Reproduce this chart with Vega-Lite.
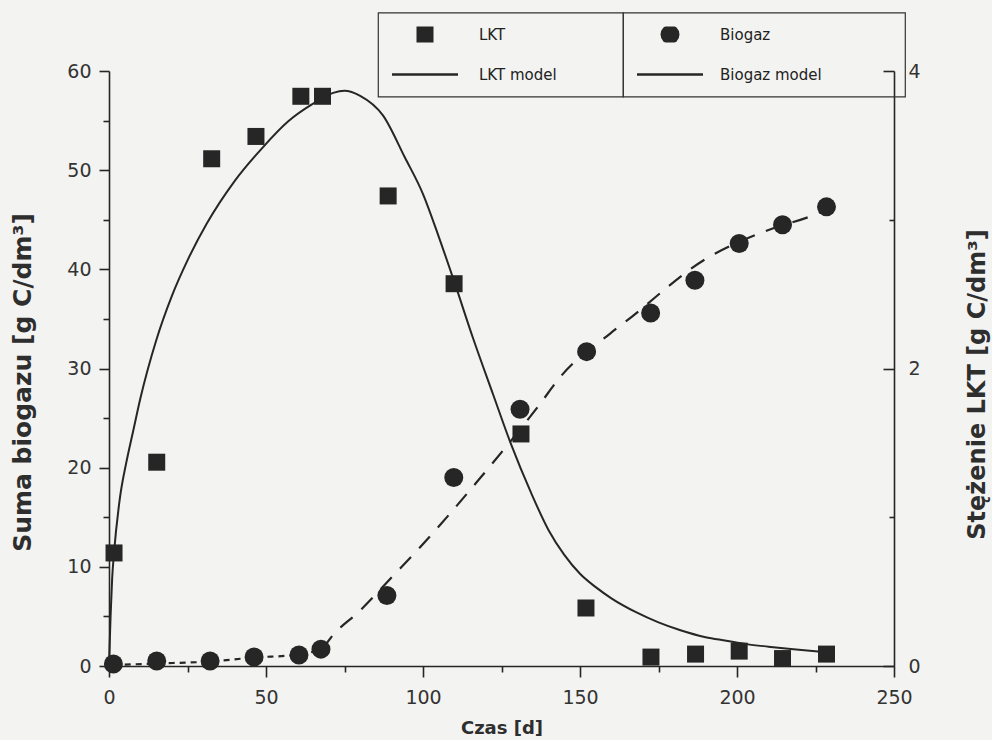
{
  "$schema": "https://vega.github.io/schema/vega-lite/v6.json",
  "width": 785,
  "height": 595,
  "autosize": {"type": "none"},
  "padding": {"left": 109, "top": 71, "right": 98, "bottom": 74},
  "background": "#f3f3f1",
  "config": {
    "view": {"stroke": null},
    "font": "DejaVu Sans",
    "legend": {"strokeWidth": 1.2},
    "axis": {
      "labelFont": "DejaVu Sans",
      "labelFontSize": 19,
      "labelColor": "#333333",
      "titleFont": "DejaVu Sans",
      "titleFontWeight": "bold",
      "titleColor": "#2e2e2e",
      "domainColor": "#262626",
      "domainWidth": 1.6,
      "tickColor": "#262626",
      "tickWidth": 1.6,
      "grid": false,
      "labelFlush": false,
      "labelOverlap": false
    }
  },
  "datasets": {
    "lktPts": [
      {"t": 1.6, "v": 0.76, "series": "LKT"},
      {"t": 15.2, "v": 1.37, "series": "LKT"},
      {"t": 32.7, "v": 3.41, "series": "LKT"},
      {"t": 46.8, "v": 3.56, "series": "LKT"},
      {"t": 61.1, "v": 3.83, "series": "LKT"},
      {"t": 68.0, "v": 3.83, "series": "LKT"},
      {"t": 88.9, "v": 3.16, "series": "LKT"},
      {"t": 109.9, "v": 2.57, "series": "LKT"},
      {"t": 131.2, "v": 1.56, "series": "LKT"},
      {"t": 151.9, "v": 0.39, "series": "LKT"},
      {"t": 172.6, "v": 0.06, "series": "LKT"},
      {"t": 186.8, "v": 0.08, "series": "LKT"},
      {"t": 200.7, "v": 0.1, "series": "LKT"},
      {"t": 214.5, "v": 0.05, "series": "LKT"},
      {"t": 228.5, "v": 0.08, "series": "LKT"}
    ],
    "bioPts": [
      {"t": 1.4, "v": 0.2, "series": "Biogaz"},
      {"t": 15.2, "v": 0.5, "series": "Biogaz"},
      {"t": 32.2, "v": 0.5, "series": "Biogaz"},
      {"t": 46.2, "v": 0.9, "series": "Biogaz"},
      {"t": 60.5, "v": 1.1, "series": "Biogaz"},
      {"t": 67.5, "v": 1.7, "series": "Biogaz"},
      {"t": 88.5, "v": 7.1, "series": "Biogaz"},
      {"t": 109.8, "v": 19.0, "series": "Biogaz"},
      {"t": 130.9, "v": 25.9, "series": "Biogaz"},
      {"t": 152.1, "v": 31.7, "series": "Biogaz"},
      {"t": 172.5, "v": 35.6, "series": "Biogaz"},
      {"t": 186.6, "v": 38.9, "series": "Biogaz"},
      {"t": 200.7, "v": 42.6, "series": "Biogaz"},
      {"t": 214.5, "v": 44.5, "series": "Biogaz"},
      {"t": 228.5, "v": 46.3, "series": "Biogaz"}
    ],
    "lktModel": [
      {"t": 0, "v": 0},
      {"t": 0.5, "v": 0.333},
      {"t": 1, "v": 0.587},
      {"t": 1.6, "v": 0.76},
      {"t": 3.5, "v": 1.133},
      {"t": 5.5, "v": 1.367},
      {"t": 7.7, "v": 1.58},
      {"t": 10, "v": 1.8},
      {"t": 15, "v": 2.187},
      {"t": 20, "v": 2.487},
      {"t": 25, "v": 2.727},
      {"t": 31.1, "v": 2.973},
      {"t": 40, "v": 3.26},
      {"t": 49, "v": 3.487},
      {"t": 57, "v": 3.66},
      {"t": 65, "v": 3.78},
      {"t": 71.4, "v": 3.853},
      {"t": 75, "v": 3.867},
      {"t": 80, "v": 3.833},
      {"t": 87.3, "v": 3.7},
      {"t": 94.2, "v": 3.42},
      {"t": 100, "v": 3.173},
      {"t": 105, "v": 2.887},
      {"t": 109.9, "v": 2.587},
      {"t": 116, "v": 2.2},
      {"t": 122.3, "v": 1.827},
      {"t": 128, "v": 1.493},
      {"t": 134.5, "v": 1.16},
      {"t": 140, "v": 0.913},
      {"t": 145, "v": 0.747},
      {"t": 150, "v": 0.62},
      {"t": 155, "v": 0.53},
      {"t": 160, "v": 0.455},
      {"t": 168, "v": 0.36},
      {"t": 175, "v": 0.293},
      {"t": 182, "v": 0.24},
      {"t": 190, "v": 0.193},
      {"t": 196.6, "v": 0.17},
      {"t": 203, "v": 0.147},
      {"t": 210, "v": 0.13},
      {"t": 218, "v": 0.113},
      {"t": 228, "v": 0.093}
    ],
    "bioModel": [
      {"t": 1.5, "v": 0.1, "seg": "a"},
      {"t": 15, "v": 0.25, "seg": "a"},
      {"t": 32, "v": 0.45, "seg": "a"},
      {"t": 46, "v": 0.85, "seg": "a"},
      {"t": 60.5, "v": 1.15, "seg": "a"},
      {"t": 68, "v": 1.7, "seg": "a"},
      {"t": 68, "v": 1.7, "seg": "b"},
      {"t": 70.4, "v": 2.75, "seg": "b"},
      {"t": 80, "v": 5.6, "seg": "b"},
      {"t": 90.5, "v": 9.1, "seg": "b"},
      {"t": 98, "v": 11.6, "seg": "b"},
      {"t": 117, "v": 18.5, "seg": "b"},
      {"t": 137.2, "v": 26.4, "seg": "b"},
      {"t": 143.6, "v": 29.1, "seg": "b"},
      {"t": 159.5, "v": 33.5, "seg": "b"},
      {"t": 164.8, "v": 34.8, "seg": "b"},
      {"t": 190.3, "v": 41.1, "seg": "b"},
      {"t": 209.4, "v": 43.9, "seg": "b"},
      {"t": 225.3, "v": 45.6, "seg": "b"},
      {"t": 228, "v": 46.0, "seg": "b"}
    ]
  },
  "layer": [
    {
      "layer": [
        {
          "data": {"name": "bioModel"},
          "mark": {"type": "line", "color": "#262626", "strokeWidth": 2.2, "interpolate": "monotone"},
          "encoding": {
            "x": {
              "field": "t", "type": "quantitative",
              "scale": {"domain": [0, 250], "nice": false, "zero": false},
              "axis": {
                "values": [0, 25, 50, 75, 100, 125, 150, 175, 200, 225, 250],
                "labelExpr": "datum.value % 50 === 0 ? datum.label : ''",
                "tickSize": {"condition": {"test": "datum.value % 50 === 0", "value": 11}, "value": 6},
                "labelPadding": 11,
                "title": "Czas [d]",
                "titleFontSize": 18,
                "titlePadding": 12
              }
            },
            "y": {
              "field": "v", "type": "quantitative",
              "scale": {"domain": [0, 60], "nice": false, "zero": false},
              "axis": {
                "orient": "left",
                "values": [0, 5, 10, 15, 20, 25, 30, 35, 40, 45, 50, 55, 60],
                "labelExpr": "datum.value % 10 === 0 ? datum.label : ''",
                "tickSize": {"condition": {"test": "datum.value % 10 === 0", "value": 10}, "value": 6},
                "labelPadding": 8,
                "title": "Suma biogazu [g C/dm³]",
                "titleFontSize": 25,
                "titlePadding": 31,
                "titleY": 311
              }
            },
            "detail": {"field": "seg", "type": "nominal"},
            "strokeDash": {
              "field": "seg", "type": "nominal",
              "scale": {"domain": ["a", "b"], "range": [[6, 5], [16, 12]]},
              "legend": null
            }
          }
        },
        {
          "data": {"name": "bioPts"},
          "mark": {"type": "point", "filled": true, "opacity": 1, "color": "#262626"},
          "encoding": {
            "x": {"field": "t", "type": "quantitative"},
            "y": {"field": "v", "type": "quantitative"},
            "shape": {
              "field": "series", "type": "nominal",
              "scale": {"domain": ["Biogaz", "Biogaz model"], "range": ["circle", "M-1,-0.035H1V0.035H-1Z"]},
              "legend": {
                "orient": "none", "legendX": 514, "legendY": -58.5,
                "direction": "vertical",
                "title": "\u00a0", "titleOrient": "right", "titlePadding": 69, "titleFontSize": 1,
                "padding": 14, "strokeColor": "#333333",
                "labelFont": "DejaVu Sans", "labelFontSize": 15, "labelColor": "#222222", "labelOffset": 17,
                "rowPadding": 24, "clipHeight": 16,
                "symbolFillColor": "#262626", "symbolStrokeWidth": 0, "symbolOpacity": 1
              }
            },
            "size": {
              "field": "series", "type": "nominal",
              "scale": {"domain": ["Biogaz", "Biogaz model"], "range": [361, 4356]},
              "legend": {
                "orient": "none", "legendX": 514, "legendY": -58.5,
                "direction": "vertical",
                "title": "\u00a0", "titleOrient": "right", "titlePadding": 69, "titleFontSize": 1,
                "padding": 14, "strokeColor": "#333333",
                "labelFont": "DejaVu Sans", "labelFontSize": 15, "labelColor": "#222222", "labelOffset": 17,
                "rowPadding": 24, "clipHeight": 16,
                "symbolFillColor": "#262626", "symbolStrokeWidth": 0, "symbolOpacity": 1
              }
            }
          }
        }
      ]
    },
    {
      "layer": [
        {
          "data": {"name": "lktModel"},
          "mark": {"type": "line", "color": "#262626", "strokeWidth": 2, "interpolate": "monotone"},
          "encoding": {
            "x": {"field": "t", "type": "quantitative"},
            "y": {
              "field": "v", "type": "quantitative",
              "scale": {"domain": [0, 4], "nice": false, "zero": false},
              "axis": {
                "orient": "right",
                "values": [0, 1, 2, 3, 4],
                "format": "d",
                "labelExpr": "datum.value % 2 === 0 ? datum.label : ''",
                "tickSize": {"condition": {"test": "datum.value % 2 === 0", "value": -11}, "value": -5},
                "labelPadding": 25,
                "title": "Stężenie LKT [g C/dm³]",
                "titleAngle": 270,
                "titleBaseline": "top",
                "titleFontSize": 24,
                "titlePadding": 45,
                "titleY": 313
              }
            }
          }
        },
        {
          "data": {"name": "lktPts"},
          "mark": {"type": "point", "filled": true, "opacity": 1, "color": "#262626"},
          "encoding": {
            "x": {"field": "t", "type": "quantitative"},
            "y": {"field": "v", "type": "quantitative"},
            "shape": {
              "field": "series", "type": "nominal",
              "scale": {"domain": ["LKT", "LKT model"], "range": ["square", "M-1,-0.035H1V0.035H-1Z"]},
              "legend": {
                "orient": "none", "legendX": 269, "legendY": -58.5,
                "direction": "vertical",
                "title": "\u00a0", "titleOrient": "right", "titlePadding": 52, "titleFontSize": 1,
                "padding": 14, "strokeColor": "#333333",
                "labelFont": "DejaVu Sans", "labelFontSize": 15, "labelColor": "#222222", "labelOffset": 21,
                "rowPadding": 24, "clipHeight": 16,
                "symbolFillColor": "#262626", "symbolStrokeWidth": 0, "symbolOpacity": 1
              }
            },
            "size": {
              "field": "series", "type": "nominal",
              "scale": {"domain": ["LKT", "LKT model"], "range": [289, 4356]},
              "legend": {
                "orient": "none", "legendX": 269, "legendY": -58.5,
                "direction": "vertical",
                "title": "\u00a0", "titleOrient": "right", "titlePadding": 52, "titleFontSize": 1,
                "padding": 14, "strokeColor": "#333333",
                "labelFont": "DejaVu Sans", "labelFontSize": 15, "labelColor": "#222222", "labelOffset": 21,
                "rowPadding": 24, "clipHeight": 16,
                "symbolFillColor": "#262626", "symbolStrokeWidth": 0, "symbolOpacity": 1
              }
            }
          }
        }
      ]
    }
  ],
  "resolve": {"scale": {"y": "independent", "shape": "independent", "size": "independent"}}
}
